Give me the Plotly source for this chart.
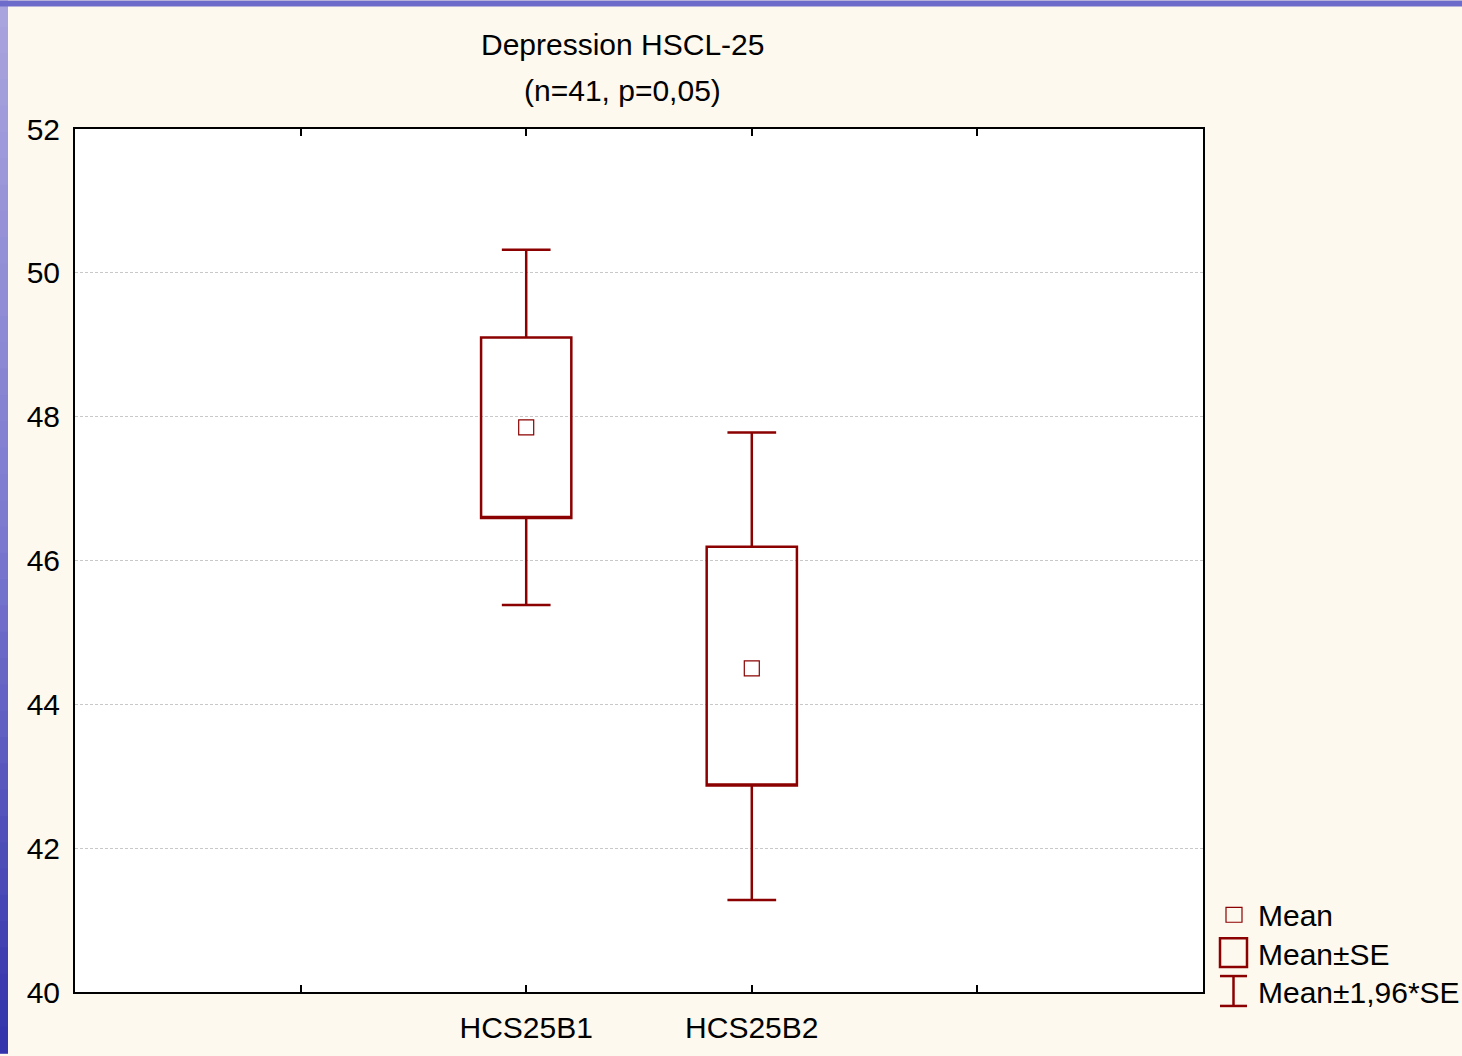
import plotly.graph_objects as go

# ---- data ----
categories = ["HCS25B1", "HCS25B2"]
means = [47.85, 44.50]
se_low = [46.59, 42.87]
se_high = [49.10, 46.19]
ci_low = [45.38, 41.28]
ci_high = [50.32, 47.78]
title_lines = ["Depression HSCL-25", "(n=41, p=0,05)"]
legend_labels = ["Mean", "Mean±SE", "Mean±1,96*SE"]

W, H = 1462, 1056
L, R, T, B = 75, 1203, 129, 995
DARK = "#8B0000"
FONT = "Liberation Sans, Arial, Helvetica, sans-serif"


def px(x):
    return (x - L) / (R - L)


def py(y):
    return (B - y) / (B - T)


xpos = list(range(len(categories)))

fig = go.Figure()
fig.add_trace(go.Box(
    x=xpos, q1=se_low, median=se_low, q3=se_high,
    lowerfence=ci_low, upperfence=ci_high,
    width=0.4, whiskerwidth=0.54, boxpoints=False,
    line=dict(color=DARK, width=2.5), fillcolor="rgba(255,255,255,0)",
    showlegend=False, hoverinfo="skip",
))
fig.add_trace(go.Scatter(
    x=xpos, y=means, mode="markers",
    marker=dict(symbol="square-open", size=15, color=DARK, line=dict(width=1.2, color=DARK)),
    showlegend=False,
))

shapes = []
# decorative gradient strips (slide background)
n = 40
c_top = (170, 164, 222)
c_mid = (124, 122, 208)
c_bot = (52, 52, 172)
for i in range(n):
    t = i / (n - 1)
    if t < 0.5:
        a, b, u = c_top, c_mid, t / 0.5
    else:
        a, b, u = c_mid, c_bot, (t - 0.5) / 0.5
    col = "rgb(%d,%d,%d)" % tuple(int(a[k] + (b[k] - a[k]) * u) for k in range(3))
    y0 = H * i / n
    y1 = H * (i + 1) / n + 1
    shapes.append(dict(type="rect", xref="paper", yref="paper",
                       x0=px(0), x1=px(8), y0=py(y0), y1=py(y1),
                       fillcolor=col, line=dict(width=0), layer="above"))
shapes.append(dict(type="rect", xref="paper", yref="paper",
                   x0=px(0), x1=px(W), y0=py(0), y1=py(6),
                   fillcolor="rgb(110,108,202)", line=dict(width=0), layer="above"))

# legend icons
shapes.append(dict(type="rect", xref="paper", yref="paper",
                   x0=px(1226), x1=px(1242), y0=py(910), y1=py(925),
                   line=dict(color=DARK, width=1.2), fillcolor="rgba(0,0,0,0)"))
shapes.append(dict(type="rect", xref="paper", yref="paper",
                   x0=px(1220), x1=px(1247), y0=py(941), y1=py(970),
                   line=dict(color=DARK, width=2.5), fillcolor="rgba(0,0,0,0)"))
shapes.append(dict(type="line", xref="paper", yref="paper",
                   x0=px(1233.5), x1=px(1233.5), y0=py(979), y1=py(1009),
                   line=dict(color=DARK, width=2.5)))
shapes.append(dict(type="line", xref="paper", yref="paper",
                   x0=px(1220), x1=px(1247), y0=py(979), y1=py(979),
                   line=dict(color=DARK, width=2.5)))
shapes.append(dict(type="line", xref="paper", yref="paper",
                   x0=px(1220), x1=px(1247), y0=py(1009), y1=py(1009),
                   line=dict(color=DARK, width=2.5)))

annotations = []
for i, line in enumerate(title_lines):
    annotations.append(dict(text=line, xref="paper", yref="paper",
                            x=px(622), y=py(44 + 46 * i), xanchor="center", yanchor="middle",
                            showarrow=False, font=dict(size=30, color="black", family=FONT)))
for i, lab in enumerate(legend_labels):
    annotations.append(dict(text=lab, xref="paper", yref="paper",
                            x=px(1256), y=py(918 + 39 * i), xanchor="left", yanchor="middle",
                            showarrow=False, font=dict(size=30, color="black", family=FONT)))

fig.update_layout(
    width=W, height=H,
    margin=dict(l=L, r=W - R, t=T, b=H - B, pad=0),
    paper_bgcolor="#FEF9EE", plot_bgcolor="white",
    font=dict(family=FONT, size=30, color="black"),
    shapes=shapes, annotations=annotations,
    showlegend=False,
)
fig.update_xaxes(
    range=[-2, 3], tickmode="array",
    tickvals=[-1, 0, 1, 2], ticktext=[""] + categories + [""],
    ticks="inside", ticklen=7, tickwidth=1.5, tickcolor="black",
    showline=True, linecolor="black", linewidth=2, mirror="ticks",
    showgrid=False, zeroline=False, ticklabelstandoff=8,
    tickfont=dict(size=30),
)
fig.update_yaxes(
    range=[40, 52], dtick=2, tick0=40,
    ticks="", showline=True, linecolor="black", linewidth=2, mirror=True,
    showgrid=True, gridcolor="#C8C8C8", gridwidth=1, griddash="3px,2px",
    zeroline=False, ticklabelstandoff=7, tickfont=dict(size=30),
)

fig.write_html("out.html")
